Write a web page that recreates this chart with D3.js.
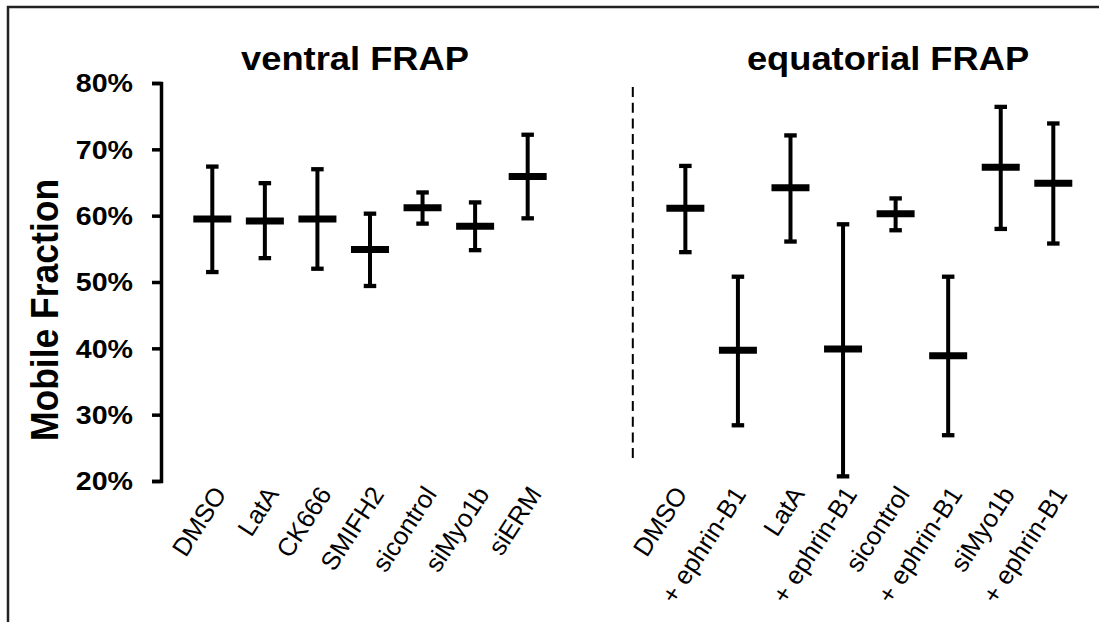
<!DOCTYPE html>
<html>
<head>
<meta charset="utf-8">
<script src="https://cdn.jsdelivr.net/npm/d3@7"></script>
<style>
  html, body { margin: 0; padding: 0; background: #fff; }
  svg { display: block; }
  text { font-family: Arial, "Liberation Sans", sans-serif; fill: #000; }
</style>
</head>
<body>
<script>
// ---- data (percent) ----
const ventralCats = ["DMSO", "LatA", "CK666", "SMIFH2", "sicontrol", "siMyo1b", "siERM"];
const ventralMean = [59.5, 59.2, 59.5, 54.9, 61.2, 58.4, 65.9];
const ventralHigh = [67.4, 64.9, 67.0, 60.3, 63.5, 62.0, 72.2];
const ventralLow  = [51.5, 53.6, 52.0, 49.4, 58.8, 54.8, 59.6];

const equatorialCats = ["DMSO", "+ ephrin-B1", "LatA", "+ ephrin-B1", "sicontrol", "+ ephrin-B1", "siMyo1b", "+ ephrin-B1"];
const equatorialMean = [61.1, 39.7, 64.2, 39.9, 60.3, 38.9, 67.3, 64.9];
const equatorialHigh = [67.5, 50.8, 72.1, 58.7, 62.6, 50.8, 76.4, 73.9];
const equatorialLow  = [54.5, 28.4, 56.1, 20.7, 57.8, 26.9, 58.0, 55.8];

const yTicks = [20, 30, 40, 50, 60, 70, 80];
const groupTitles = ["ventral FRAP", "equatorial FRAP"];
const yTitle = "Mobile Fraction";

// layout-only nudges for the equatorial labels (px)
const equatorialLabelNudge = [-12, -6, 0, 0, 0, 0, 0, 0];

// ---- build rows ----
const rows = [];
ventralCats.forEach((c, i) => rows.push({key: "v" + i, label: c, mean: ventralMean[i], hi: ventralHigh[i], lo: ventralLow[i], nudge: 0}));
equatorialCats.forEach((c, i) => rows.push({key: "e" + i, label: c, mean: equatorialMean[i], hi: equatorialHigh[i], lo: equatorialLow[i], nudge: equatorialLabelNudge[i]}));
const slotKeys = ventralCats.map((_, i) => "v" + i).concat(["gap", "divider"], equatorialCats.map((_, i) => "e" + i));

const W = 1099, H = 622;
const svg = d3.select("body").append("svg").attr("width", W).attr("height", H);

// frame
svg.append("rect").attr("x", 8).attr("y", 7).attr("width", 1300).attr("height", 900)
  .attr("fill", "none").attr("stroke", "#222").attr("stroke-width", 2.5);

const x = d3.scalePoint().domain(slotKeys).range([212.3, 1053.3]);
const y = d3.scaleLinear().domain([20, 80]).range([481, 83]);
const axisX = 161;

// y axis
const yAxis = d3.axisLeft(y).tickValues(yTicks).tickSize(9).tickSizeOuter(9).tickFormat("");
const ga = svg.append("g").attr("transform", `translate(${axisX},0)`).call(yAxis);
ga.select(".domain").attr("stroke", "#000").attr("stroke-width", 3.5);
ga.selectAll(".tick line").attr("stroke", "#000").attr("stroke-width", 3.5);

svg.append("g").selectAll("text").data(yTicks).join("text")
  .attr("transform", d => `translate(133,${y(d)}) scale(1.1,1)`)
  .attr("text-anchor", "end").attr("dy", "0.36em")
  .style("font-size", "26px").style("font-weight", "bold")
  .text(d => d + "%");

// y title
svg.append("text")
  .attr("transform", "translate(58,310) rotate(-90) scale(1,1.1)")
  .attr("text-anchor", "middle")
  .style("font-size", "35.5px").style("font-weight", "bold")
  .text(yTitle);

// group titles
const titleX = [355, 888];
svg.append("g").selectAll("text").data(groupTitles).join("text")
  .attr("transform", (d, i) => `translate(${titleX[i]},70) scale(1.1,1)`)
  .attr("text-anchor", "middle")
  .style("font-size", "33px").style("font-weight", "bold")
  .text(d => d);

// divider
svg.append("line").attr("x1", x("divider")).attr("x2", x("divider")).attr("y1", 87).attr("y2", 463)
  .attr("stroke", "#000").attr("stroke-width", 2).attr("stroke-dasharray", "10,5.7");

// error bars
const g = svg.append("g");
const capW = 12.5, meanW = 38;
g.selectAll(".stem").data(rows).join("line")
  .attr("x1", d => x(d.key)).attr("x2", d => x(d.key))
  .attr("y1", d => y(d.hi)).attr("y2", d => y(d.lo))
  .attr("stroke", "#000").attr("stroke-width", 4);
g.selectAll(".capH").data(rows).join("line")
  .attr("x1", d => x(d.key) - capW / 2).attr("x2", d => x(d.key) + capW / 2)
  .attr("y1", d => y(d.hi)).attr("y2", d => y(d.hi))
  .attr("stroke", "#000").attr("stroke-width", 4.3);
g.selectAll(".capL").data(rows).join("line")
  .attr("x1", d => x(d.key) - capW / 2).attr("x2", d => x(d.key) + capW / 2)
  .attr("y1", d => y(d.lo)).attr("y2", d => y(d.lo))
  .attr("stroke", "#000").attr("stroke-width", 4.3);
g.selectAll(".mean").data(rows).join("line")
  .attr("x1", d => x(d.key) - meanW / 2).attr("x2", d => x(d.key) + meanW / 2)
  .attr("y1", d => y(d.mean)).attr("y2", d => y(d.mean))
  .attr("stroke", "#000").attr("stroke-width", 7);

// category labels
svg.append("g").selectAll("text").data(rows).join("text")
  .attr("transform", d => `translate(${x(d.key) + 15 + d.nudge},494) rotate(-57)`)
  .attr("text-anchor", "end")
  .style("font-size", "25.5px")
  .text(d => d.label);
</script>
</body>
</html>
